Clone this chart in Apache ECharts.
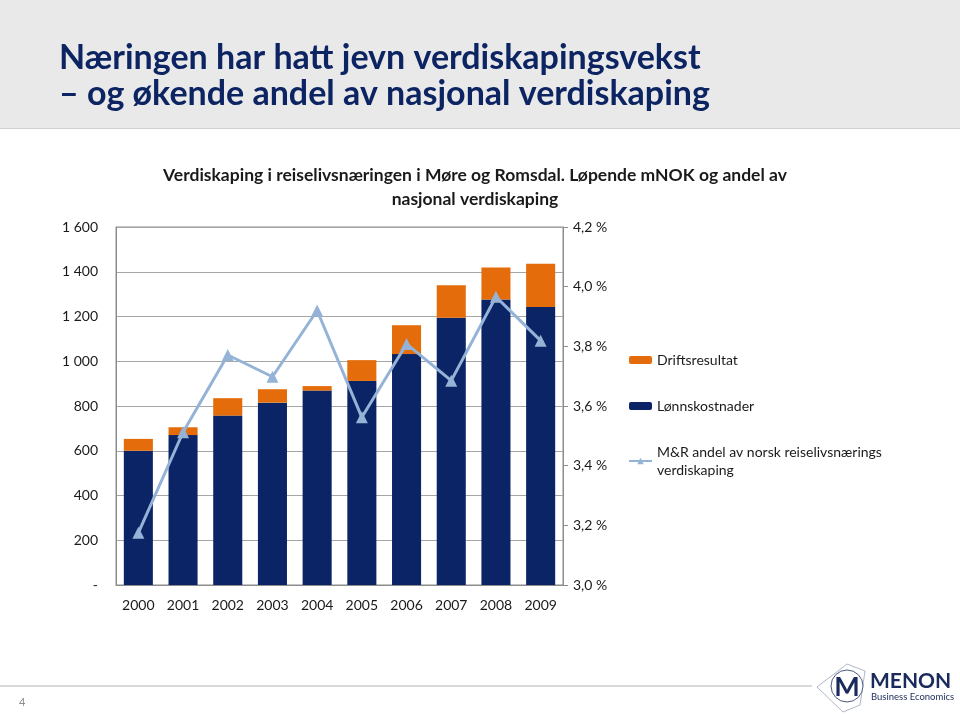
<!DOCTYPE html>
<html>
<head>
<meta charset="utf-8">
<script src="https://cdn.jsdelivr.net/npm/echarts@6/dist/echarts.min.js"></script>
<style>
html,body{margin:0;padding:0;background:#fff;}
#c{width:960px;height:715px;}
</style>
</head>
<body>
<div id="c"></div>
<script>
const years = ['2000','2001','2002','2003','2004','2005','2006','2007','2008','2009'];
const lonnskostnader = [600, 670, 757, 815, 869, 912, 1032, 1194, 1276, 1243];
const driftsresultat = [53, 35, 78, 60, 20, 93, 129, 146, 143, 193];
const andel = [3.175, 3.512, 3.771, 3.698, 3.920, 3.562, 3.808, 3.685, 3.966, 3.819];
const leftTicks = [0, 200, 400, 600, 800, 1000, 1200, 1400, 1600];
const rightTicks = [3.0, 3.2, 3.4, 3.6, 3.8, 4.0, 4.2];

const FONT = 'Lato';
const chart = echarts.init(document.getElementById('c'), null, {renderer: 'canvas'});

function fmtLeft(v){
  if (v === 0) return '-';
  const s = String(Math.round(v));
  return s.length > 3 ? s.slice(0, s.length-3) + ' ' + s.slice(-3) : s;
}
function fmtRight(v){
  return v.toFixed(1).replace('.', ',') + ' %';
}

const option = {
  backgroundColor: '#ffffff',
  animation: false,
  textStyle: {fontFamily: FONT},
  graphic: [
    {type: 'rect', shape: {x: 0, y: 0, width: 960, height: 128}, style: {fill: '#e9e9e9'}, z: -10},
    {type: 'line', shape: {x1: 0, y1: 128.5, x2: 960, y2: 128.5}, style: {stroke: '#cfcfcf', lineWidth: 1}, z: -9},
    {type: 'text', left: 59, top: 41, style: {text: 'Næringen har hatt jevn verdiskapingsvekst', font: 'bold 34px ' + FONT, fill: '#0d2462'}},
    {type: 'text', left: 59, top: 77, style: {text: '– og økende andel av nasjonal verdiskaping', font: 'bold 34px ' + FONT, fill: '#0d2462'}},
    {type: 'line', shape: {x1: 0, y1: 686, x2: 812, y2: 686}, style: {stroke: '#d9d9d9', lineWidth: 2}},
    {type: 'text', left: 19, top: 697, style: {text: '4', font: '11px ' + FONT, fill: '#8c8c8c'}},
    {type: 'polygon', shape: {points: [[817, 687], [847, 664], [865, 671], [860, 705], [843, 712]]}, style: {fill: 'none', stroke: '#9aa3b8', lineWidth: 0.8}},
    {type: 'circle', shape: {cx: 847, cy: 686, r: 16}, style: {fill: '#ffffff', stroke: '#4a5a80', lineWidth: 1}},
    {type: 'text', x: 847, y: 687, style: {text: 'M', font: 'bold 27px ' + FONT, fill: '#1b2a5c', align: 'center', verticalAlign: 'middle'}},
    {type: 'text', left: 870, top: 671, style: {text: 'MENON', font: 'bold 21px ' + FONT, fill: '#1b2a5c'}},
    {type: 'text', left: 871, top: 692, style: {text: 'Business Economics', font: '9.5px ' + FONT, fill: '#1b2a5c'}}
  ],
  title: {
    text: 'Verdiskaping i reiselivsnæringen i Møre og Romsdal. Løpende mNOK og andel av\nnasjonal verdiskaping',
    left: 470, top: 158, textAlign: 'center',
    textStyle: {fontFamily: FONT, fontWeight: 'bold', fontSize: 17.5, lineHeight: 24, color: '#1a1a1a'}
  },
  legend: {
    orient: 'vertical', left: 623, top: 346, itemGap: 28, itemWidth: 23, itemHeight: 8,
    textStyle: {fontFamily: FONT, fontSize: 14, color: '#1a1a1a', lineHeight: 18},
    data: ['Driftsresultat', 'Lønnskostnader', {name: 'M&R andel av norsk reiselivsnærings\nverdiskaping'}]
  },
  grid: {left: 116, right: 397, top: 227, bottom: 130, show: true, borderColor: '#8c8c8c', borderWidth: 1, containLabel: false},
  xAxis: {
    type: 'category', data: years,
    axisLine: {show: true, lineStyle: {color: '#8c8c8c'}},
    axisTick: {show: false},
    axisLabel: {color: '#1a1a1a', fontSize: 14, fontFamily: FONT, margin: 13}
  },
  yAxis: [
    {
      type: 'value', min: 0, max: 1600, interval: 200,
      axisLine: {show: true, lineStyle: {color: '#8c8c8c'}},
      axisTick: {show: false},
      splitLine: {show: true, lineStyle: {color: '#a6a6a6', width: 1}},
      axisLabel: {color: '#1a1a1a', fontSize: 14, fontFamily: FONT, margin: 18, formatter: fmtLeft}
    },
    {
      type: 'value', min: 3.0, max: 4.2, interval: 0.2, position: 'right',
      axisLine: {show: true, lineStyle: {color: '#8c8c8c'}},
      axisTick: {show: true, inside: false, length: 5, lineStyle: {color: '#8c8c8c'}},
      splitLine: {show: false},
      axisLabel: {color: '#1a1a1a', fontSize: 14, fontFamily: FONT, margin: 10, formatter: fmtRight}
    }
  ],
  series: [
    {
      name: 'Lønnskostnader', type: 'bar', stack: 'v', data: lonnskostnader,
      barCategoryGap: '35%', itemStyle: {color: '#0b2466'}
    },
    {
      name: 'Driftsresultat', type: 'bar', stack: 'v', data: driftsresultat,
      itemStyle: {color: '#e46c0a'}
    },
    {
      name: 'M&R andel av norsk reiselivsnærings\nverdiskaping', type: 'line', yAxisIndex: 1, data: andel,
      symbol: 'triangle', symbolSize: 12,
      lineStyle: {color: '#95b3d7', width: 3},
      itemStyle: {color: '#95b3d7'}
    }
  ]
};
chart.setOption(option);
</script>
</body>
</html>
